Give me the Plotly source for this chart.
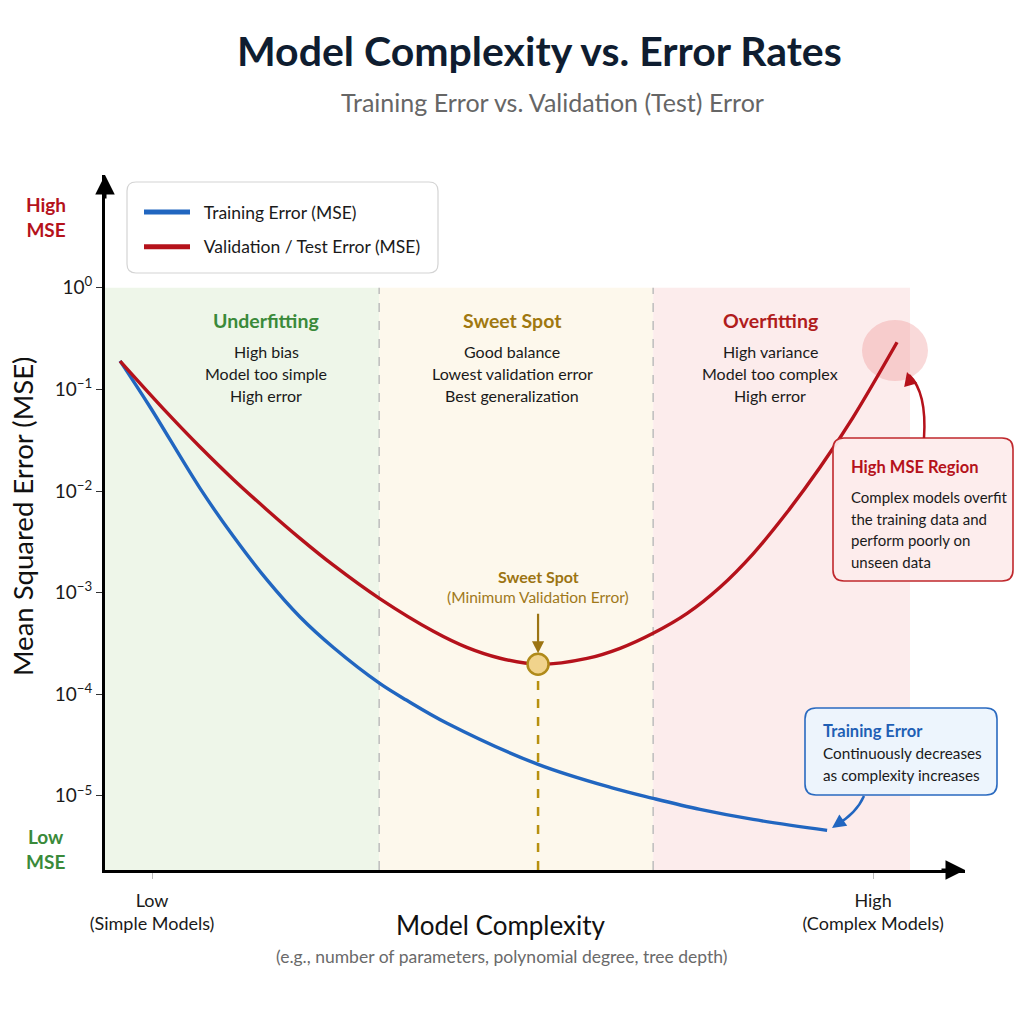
import math
import plotly.graph_objects as go

# ---------------- data ----------------
train_complexity = [0.645, 0.978, 1.533, 1.902, 2.273, 2.642, 3.012, 3.530, 3.826, 4.273,
                    5.283, 6.115, 6.559, 7.080, 7.669, 8.490]
train_mse = [0.191, 0.0671, 0.0106, 3.58e-3, 1.34e-3, 5.75e-4, 2.88e-4, 1.27e-4, 8.71e-5, 5.18e-5,
             2.04e-5, 1.19e-5, 9.44e-6, 7.36e-6, 5.86e-6, 4.57e-6]

val_complexity = [0.645, 1.163, 1.533, 1.902, 2.273, 2.642, 3.012, 3.530, 4.121, 4.492, 4.861,
                  5.283, 5.827, 6.193, 6.559, 6.937, 7.302, 7.669, 8.046, 8.412, 8.778, 9.266]
val_mse = [0.190, 0.0594, 0.0271, 0.0130, 6.55e-3, 3.42e-3, 1.86e-3, 8.67e-4, 4.16e-4, 2.89e-4, 2.26e-4,
           1.97e-4, 2.25e-4, 2.83e-4, 3.98e-4, 6.25e-4, 1.13e-3, 2.41e-3, 6.17e-3, 0.0171, 0.0531, 0.291]

sweet_x = [5.283]
sweet_y = [1.97e-4]

region_names = ["Underfitting", "Sweet Spot", "Overfitting"]
region_bounds = [0.478, 3.52, 6.56, 9.41]
region_desc = [
    ["High bias", "Model too simple", "High error"],
    ["Good balance", "Lowest validation error", "Best generalization"],
    ["High variance", "Model too complex", "High error"],
]

y_tickvals = [1, 1e-1, 1e-2, 1e-3, 1e-4, 1e-5]
y_ticktext = ["10<sup>0</sup>", "10<sup>−1</sup>", "10<sup>−2</sup>", "10<sup>−3</sup>",
              "10<sup>−4</sup>", "10<sup>−5</sup>"]
x_tickvals = [1, 9]
x_ticktext = ["Low<br>(Simple Models)", "High<br>(Complex Models)"]

# ---------------- styling / layout helpers ----------------
FONT = "Lato"
L, R, T, B = 105, 965, 175, 870
X_RANGE = [0.478, 10.02]
Y_RANGE = [-5.73, 1.11]


def px(xp):
    return (xp - L) / (R - L)


def py(yp):
    return (B - yp) / (B - T)


def dx(xp):  # pixel -> data x
    return X_RANGE[0] + (xp - L) / (R - L) * (X_RANGE[1] - X_RANGE[0])


def dy(yp):  # pixel -> data y (log axis, returns value)
    return 10 ** (Y_RANGE[0] + (B - yp) / (B - T) * (Y_RANGE[1] - Y_RANGE[0]))


def rrect(x0, y0, x1, y1, r):
    pts = [
        ("M", [(x0 + r, y0)]), ("L", [(x1 - r, y0)]), ("Q", [(x1, y0), (x1, y0 + r)]),
        ("L", [(x1, y1 - r)]), ("Q", [(x1, y1), (x1 - r, y1)]), ("L", [(x0 + r, y1)]),
        ("Q", [(x0, y1), (x0, y1 - r)]), ("L", [(x0, y0 + r)]), ("Q", [(x0, y0), (x0 + r, y0)]),
    ]
    s = ""
    for cmd, ps in pts:
        s += cmd + " " + " ".join(f"{px(a):.5f},{py(b):.5f}" for a, b in ps) + " "
    return s + "Z"


def qpath(p0, c, p1):
    return (f"M {px(p0[0]):.5f},{py(p0[1]):.5f} Q {px(c[0]):.5f},{py(c[1]):.5f} "
            f"{px(p1[0]):.5f},{py(p1[1]):.5f}")


BLUE = "#2166c0"
RED = "#b5121b"
GOLD = "#9c7412"
GREEN = "#3a8a3a"

fig = go.Figure()

fig.add_trace(go.Scatter(
    x=train_complexity, y=train_mse, mode="lines", name="\u2002Training Error (MSE)", legendgroup="a",
    line=dict(color=BLUE, width=3.4, shape="spline", smoothing=1.0)))
fig.add_trace(go.Scatter(
    x=val_complexity, y=val_mse, mode="lines", name="\u2002Validation / Test Error (MSE)", legendgroup="b",
    line=dict(color=RED, width=3.4, shape="spline", smoothing=1.0)))
fig.add_trace(go.Scatter(
    x=sweet_x, y=sweet_y, mode="markers", showlegend=False,
    marker=dict(size=21, color="#f1d38c", line=dict(color="#b08a1a", width=2.5))))

shapes = []
region_fill = ["#eef6e9", "#fdf8ec", "#fcecec"]
ybot = 10 ** Y_RANGE[0]
for i in range(3):
    shapes.append(dict(type="rect", xref="x", yref="y", x0=region_bounds[i], x1=region_bounds[i + 1],
                       y0=ybot, y1=1, fillcolor=region_fill[i], line=dict(width=0), layer="below"))
for xb in region_bounds[1:3]:
    shapes.append(dict(type="line", xref="x", yref="y", x0=xb, x1=xb, y0=ybot, y1=1,
                       line=dict(color="#bdbdbd", width=1.5, dash="dash"), layer="below"))
# sweet spot dashed drop line
shapes.append(dict(type="line", xref="x", yref="y", x0=sweet_x[0], x1=sweet_x[0], y0=ybot, y1=sweet_y[0],
                   line=dict(color="#b8900f", width=2.5, dash="dash"), layer="below"))
# overfitting highlight ellipse
shapes.append(dict(type="circle", xref="x", yref="y", x0=dx(862), x1=dx(928), y0=dy(381), y1=dy(320),
                   fillcolor="rgba(236,128,128,0.30)", line=dict(width=0), layer="below"))
# legend box
shapes.append(dict(type="path", xref="paper", yref="paper", path=rrect(127, 182, 438, 273, 9),
                   fillcolor="white", line=dict(color="#d4d4d4", width=1.2), layer="above"))
# High MSE callout
shapes.append(dict(type="path", xref="paper", yref="paper", path=rrect(833, 438, 1013, 581, 11),
                   fillcolor="rgba(253,236,236,0.95)", line=dict(color="#c0282d", width=1.6), layer="above"))
shapes.append(dict(type="path", xref="paper", yref="paper", path=qpath((924, 438), (927, 392), (909, 375)),
                   line=dict(color="#b5121b", width=2.5), layer="above"))
# Training error callout
shapes.append(dict(type="path", xref="paper", yref="paper", path=rrect(805, 708, 997, 795, 11),
                   fillcolor="rgba(236,244,253,0.95)", line=dict(color="#2a6ac0", width=1.6), layer="above"))
shapes.append(dict(type="path", xref="paper", yref="paper", path=qpath((864, 796), (856, 814), (836, 825)),
                   line=dict(color=BLUE, width=2.5), layer="above"))

ann = []


def text(xp, yp, t, size, color="#1a1a1a", bold=False, xanchor="center", **kw):
    ann.append(dict(x=px(xp), y=py(yp), xref="paper", yref="paper", text=(f"<b>{t}</b>" if bold else t),
                    showarrow=False, xanchor=xanchor, yanchor="middle",
                    font=dict(family=FONT, size=size, color=color), **kw))


# titles
text(539, 51, "Model Complexity vs. Error Rates", 41, "#0f1d30", bold=True)
text(552, 102, "Training Error vs. Validation (Test) Error", 25, "#666666")
# axis titles
text(501, 925, "Model Complexity", 26, "#111111")
text(501, 956, "(e.g., number of parameters, polynomial degree, tree depth)", 17.5, "#6a6a6a")
text(22, 517, "Mean Squared Error (MSE)", 27.5, "#111111", textangle=-90)
text(46, 217, "High<br>MSE", 19, "#b5121b", bold=True)
text(45, 849, "Low<br>MSE", 19, GREEN, bold=True)

# region labels
region_cx = [266, 512, 770]
region_col = [GREEN, "#a07810", "#b01c1c"]
for i in range(3):
    text(region_cx[i], 320, region_names[i], 19.5, region_col[i], bold=True)
    for j, line in enumerate(region_desc[i]):
        text(region_cx[i], 351 + 22 * j, line, 16, "#1a1a1a")

# sweet spot annotation
text(538, 576, "Sweet Spot", 16, GOLD, bold=True)
text(538, 597, "(Minimum Validation Error)", 15.5, "#a0781a")
ann.append(dict(x=sweet_x[0], y=math.log10(sweet_y[0]), xref="x", yref="y", ax=0, ay=-52, text="",
                showarrow=True, arrowhead=2, arrowsize=1.1, arrowwidth=2.2, arrowcolor=GOLD, standoff=11))

# High MSE callout text
text(849, 467, "High MSE Region", 16.5, "#b5121b", bold=True, xanchor="left")
for j, line in enumerate(["Complex models overfit", "the training data and",
                          "perform poorly on", "unseen data"]):
    text(849, 497 + 21.5 * j, line, 15, "#1a1a1a", xanchor="left")
ann.append(dict(x=px(907), y=py(372), xref="paper", yref="paper", ax=4, ay=14, text="",
                showarrow=True, arrowhead=2, arrowsize=1.1, arrowwidth=2.5, arrowcolor="#b5121b"))

# Training error callout text
text(821, 731, "Training Error", 16.5, "#1f5fb5", bold=True, xanchor="left")
text(821, 753, "Continuously decreases", 15.3, "#1a1a1a", xanchor="left")
text(821, 775, "as complexity increases", 15.3, "#1a1a1a", xanchor="left")
ann.append(dict(x=px(832), y=py(828), xref="paper", yref="paper", ax=10, ay=-7, text="",
                showarrow=True, arrowhead=2, arrowsize=1.1, arrowwidth=2.5, arrowcolor=BLUE))

# axis arrowheads
ann.append(dict(x=0, y=1, xref="paper", yref="paper", ax=0, ay=25, text="", showarrow=True,
                arrowhead=2, arrowsize=1.3, arrowwidth=3, arrowcolor="black"))
ann.append(dict(x=1, y=0, xref="paper", yref="paper", ax=-25, ay=0, text="", showarrow=True,
                arrowhead=2, arrowsize=1.3, arrowwidth=3, arrowcolor="black"))

fig.update_layout(
    width=1024, height=1024,
    margin=dict(l=L, r=1024 - R, t=T, b=1024 - B),
    paper_bgcolor="white", plot_bgcolor="white",
    font=dict(family=FONT, color="#1a1a1a"),
    shapes=shapes, annotations=ann,
    legend=dict(x=px(139), y=py(194), xanchor="left", yanchor="top", bgcolor="rgba(0,0,0,0)",
                font=dict(family=FONT, size=17.5, color="#1a1a1a"), tracegroupgap=9, itemwidth=46,
                itemsizing="constant"),
    showlegend=True,
)
fig.update_xaxes(range=X_RANGE, showgrid=False, zeroline=False, showline=True, linecolor="black", linewidth=3,
                 tickvals=x_tickvals, ticktext=x_ticktext, ticks="outside", ticklen=6, tickcolor="#bbbbbb",
                 tickfont=dict(family=FONT, size=18, color="#1a1a1a"), ticklabelstandoff=6)
fig.update_yaxes(type="log", range=Y_RANGE, showgrid=False, zeroline=False, showline=True, linecolor="black",
                 linewidth=3, tickvals=y_tickvals, ticktext=y_ticktext, ticks="outside", ticklen=6,
                 tickcolor="#333333", tickfont=dict(family=FONT, size=19, color="#1a1a1a"))

fig.write_html("out.html")
